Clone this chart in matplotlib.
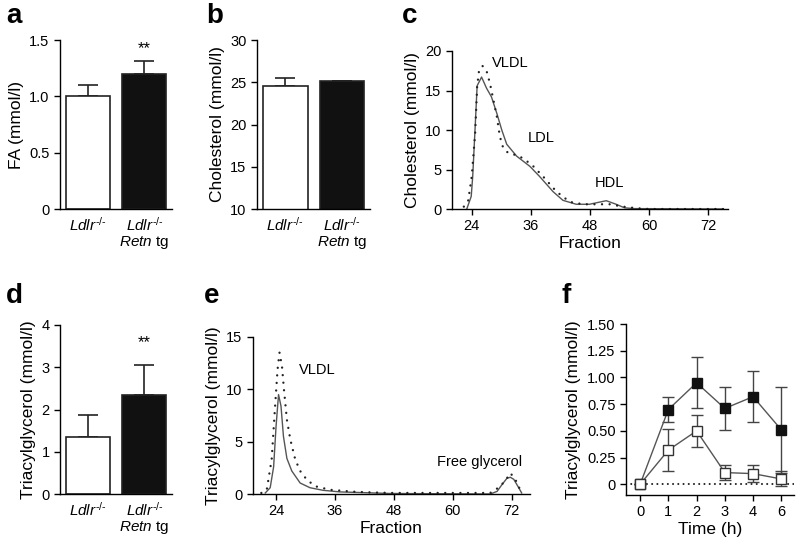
import numpy as np
import matplotlib.pyplot as plt

plt.rcParams['font.family'] = ['Liberation Sans', 'DejaVu Sans']
plt.rcParams['mathtext.fontset'] = 'custom'
plt.rcParams['mathtext.rm'] = 'Liberation Sans'
plt.rcParams['mathtext.it'] = 'Liberation Sans:italic'
plt.rcParams['axes.linewidth'] = 1.0
plt.rcParams['xtick.major.width'] = 1.0
plt.rcParams['ytick.major.width'] = 1.0
plt.rcParams['xtick.major.size'] = 4
plt.rcParams['ytick.major.size'] = 4
plt.rcParams['xtick.labelsize'] = 10.5
plt.rcParams['ytick.labelsize'] = 10.5

# bar panels
groups = ['$\\mathit{Ldlr}^{\\text{-/-}}$', '$\\mathit{Ldlr}^{\\text{-/-}}$\n$\\mathit{Retn}$ tg']
fa_mean = [1.0, 1.2]
fa_err = [0.1, 0.11]
chol_mean = [24.5, 25.1]
chol_err = [1.05, 0.08]
tg_mean = [1.35, 2.35]
tg_err = [0.53, 0.7]

# panel c: cholesterol profile
c_solid_x = [23.0, 23.9, 24.2, 24.7, 25.1, 26.0, 27.0, 28.0, 29.1, 30.1, 31.1, 33.1, 35.8, 37.8,
             40.5, 42.5, 45.2, 47.9, 51.3, 53.3, 55.0, 57.0, 75.0]
c_solid_y = [0.0, 1.6, 4.1, 10.4, 15.6, 16.7, 15.3, 14.2, 12.1, 10.0, 8.2, 6.7, 5.4, 4.1,
             2.2, 1.1, 0.6, 0.6, 1.05, 0.6, 0.15, 0.05, 0.0]
c_dot_x = [22.4, 23.3, 24.0, 24.7, 25.1, 25.5, 26.2, 27.0, 27.7, 28.4, 29.1, 29.7, 30.4, 31.4,
           33.1, 34.5, 36.5, 38.5, 41.2, 43.9, 46.6, 49.3, 52.0, 54.7, 57.4, 60.0, 75.0]
c_dot_y = [0.3, 1.1, 4.1, 9.6, 15.5, 17.6, 18.1, 17.5, 15.9, 13.8, 11.7, 9.2, 7.7, 7.1,
           6.8, 6.4, 5.4, 4.1, 2.2, 0.9, 0.6, 0.6, 0.6, 0.3, 0.1, 0.0, 0.0]

# panel e: triacylglycerol profile
e_solid_x = [21.8, 22.8, 23.5, 24.0, 24.5, 25.0, 25.5, 26.2, 27.2, 28.9, 30.9, 33.6, 37.0, 40.4,
             47.2, 67.6, 69.0, 70.0, 71.0, 71.7, 72.4, 73.4, 74.0]
e_solid_y = [0.1, 0.6, 2.6, 6.5, 9.5, 8.4, 5.5, 3.4, 2.2, 1.05, 0.6, 0.35, 0.2, 0.15,
             0.05, 0.0, 0.25, 0.9, 1.5, 1.6, 1.4, 0.6, 0.1]
e_dot_x = [21.0, 22.1, 23.1, 23.8, 24.3, 24.7, 25.2, 25.6, 26.2, 26.9, 27.9, 28.9, 30.2, 31.9,
           35.0, 40.4, 47.2, 67.6, 69.6, 71.0, 71.7, 72.7, 73.7, 74.4]
e_dot_y = [0.1, 0.4, 3.3, 8.4, 11.9, 13.5, 12.2, 10.0, 7.1, 5.2, 3.3, 2.2, 1.4, 0.75,
           0.4, 0.2, 0.1, 0.1, 0.7, 1.5, 2.0, 1.4, 0.4, 0.1]

# panel f: time course
time_labels = ['0', '1', '2', '3', '4', '6']
f_black = [0.0, 0.70, 0.95, 0.71, 0.82, 0.51]
f_black_err = [0.0, 0.12, 0.24, 0.20, 0.24, 0.40]
f_white = [0.0, 0.32, 0.50, 0.11, 0.10, 0.05]
f_white_err = [0.0, 0.20, 0.15, 0.07, 0.08, 0.07]

fig = plt.figure(figsize=(8, 5.44), dpi=100)
W, H = 800, 544
DOTS = (0, (0.01, 3.2))


def add_ax(left, right, top, bottom):
    ax = fig.add_axes([left / W, 1 - bottom / H, (right - left) / W, (bottom - top) / H])
    ax.spines['top'].set_visible(False)
    ax.spines['right'].set_visible(False)
    return ax


def bar_panel(ax, mean, err, ylim, ticks, ticklabels, ylabel):
    x = np.arange(2)
    ax.bar(x, mean, width=0.78, color=['white', '#111111'], edgecolor='#222222', linewidth=1.2,
           zorder=2)
    ax.errorbar(x, mean, yerr=[[0, 0], err], fmt='none', ecolor='#222222', elinewidth=1.2,
                capsize=7, capthick=1.2, zorder=1)
    ax.set_xlim(-0.5, 1.49)
    ax.set_ylim(*ylim)
    ax.set_yticks(ticks)
    ax.set_yticklabels(ticklabels)
    ax.set_xticks(x)
    ax.set_xticklabels(groups, fontsize=11, linespacing=1.0, va='top')
    ax.tick_params(axis='x', length=0, pad=5)
    ax.set_ylabel(ylabel, fontsize=12.5)


# a
ax = add_ax(60, 172, 40, 209)
bar_panel(ax, fa_mean, fa_err, (0, 1.5), [0, 0.5, 1.0, 1.5], ['0', '0.5', '1.0', '1.5'],
          'FA (mmol/l)')
ax.text(1, 1.42, '**', ha='center', va='center', fontsize=12)

# b
ax = add_ax(257, 370, 40, 209)
bar_panel(ax, chol_mean, chol_err, (10, 30), [10, 15, 20, 25, 30],
          ['10', '15', '20', '25', '30'], 'Cholesterol (mmol/l)')

# d
ax = add_ax(60, 172, 325, 494)
bar_panel(ax, tg_mean, tg_err, (0, 4), [0, 1, 2, 3, 4], ['0', '1', '2', '3', '4'],
          'Triacylglycerol (mmol/l)')
ax.text(1, 3.58, '**', ha='center', va='center', fontsize=12)

# c
ax = add_ax(452, 728, 51, 209)
ax.plot(c_solid_x, c_solid_y, color='#555555', lw=1.0)
ax.plot(c_dot_x, c_dot_y, color='#222222', lw=1.7, ls=DOTS, dash_capstyle='round')
ax.set_xlim(20, 76)
ax.set_ylim(0, 20)
ax.set_xticks([24, 36, 48, 60, 72])
ax.set_yticks([0, 5, 10, 15, 20])
ax.set_xlabel('Fraction', fontsize=12.5, labelpad=2)
ax.set_ylabel('Cholesterol (mmol/l)', fontsize=12.5)
ax.text(28.1, 18.5, 'VLDL', fontsize=10.5, va='center')
ax.text(35.4, 9.0, 'LDL', fontsize=10.5, va='center')
ax.text(48.9, 3.3, 'HDL', fontsize=10.5, va='center')

# e
ax = add_ax(253, 530, 337, 494)
ax.plot(e_solid_x, e_solid_y, color='#555555', lw=1.0)
ax.plot(e_dot_x, e_dot_y, color='#222222', lw=1.7, ls=DOTS, dash_capstyle='round')
ax.set_xlim(19.3, 75.7)
ax.set_ylim(0, 15)
ax.set_xticks([24, 36, 48, 60, 72])
ax.set_yticks([0, 5, 10, 15])
ax.set_xlabel('Fraction', fontsize=12.5, labelpad=2)
ax.set_ylabel('Triacylglycerol (mmol/l)', fontsize=12.5)
ax.text(28.7, 11.8, 'VLDL', fontsize=10.5, va='center')
ax.text(56.7, 3.1, 'Free glycerol', fontsize=10.5, va='center')

# f
ax = add_ax(626, 794, 324, 495)
xt = np.arange(len(time_labels))
ax.axhline(0, color='#222222', lw=1.5, ls=(0, (0.01, 2.5)), dash_capstyle='round', zorder=1)
ax.errorbar(xt, f_black, yerr=f_black_err, color='#555555', lw=1.0, ecolor='#444444',
            elinewidth=1.0, capsize=4, capthick=1.0, marker='s', ms=7, mfc='#111111',
            mec='#111111', zorder=3)
ax.errorbar(xt, f_white, yerr=f_white_err, color='#555555', lw=1.0, ecolor='#444444',
            elinewidth=1.0, capsize=4, capthick=1.0, marker='s', ms=7, mfc='white',
            mec='#333333', mew=1.0, zorder=4)
ax.set_xlim(-0.5, 5.45)
ax.set_ylim(-0.1, 1.5)
ax.set_xticks(xt)
ax.set_xticklabels(time_labels)
ax.set_yticks([0, 0.25, 0.5, 0.75, 1.0, 1.25, 1.5])
ax.set_yticklabels(['0', '0.25', '0.50', '0.75', '1.00', '1.25', '1.50'])
ax.set_xlabel('Time (h)', fontsize=12.5, labelpad=2)
ax.set_ylabel('Triacylglycerol (mmol/l)', fontsize=12.5)

# panel letters
for lab, x, y in [('a', 6, 23), ('b', 206, 23), ('c', 402, 23), ('d', 6, 303), ('e', 204, 303),
                  ('f', 561, 303)]:
    fig.text(x / W, 1 - y / H, lab, fontsize=20, fontweight='bold', va='baseline')

fig.savefig('out.png', dpi=100)
